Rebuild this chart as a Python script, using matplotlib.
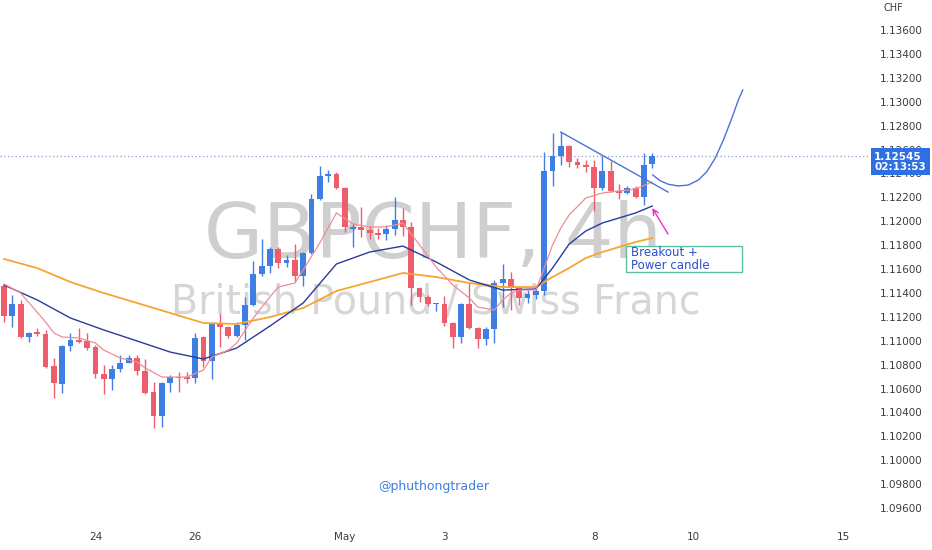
import numpy as np
import matplotlib.pyplot as plt
from matplotlib.patches import Rectangle
from matplotlib.transforms import blended_transform_factory

# 4h candles, GBPCHF
opens = [1.11458, 1.11207, 1.11310, 1.11031, 1.11073, 1.11056, 1.10789, 1.10638, 1.10956, 1.11006,
         1.10998, 1.10947, 1.10721, 1.10680, 1.10764, 1.10814, 1.10855, 1.10747, 1.10570, 1.10370,
         1.10646, 1.10696, 1.10696, 1.10688, 1.11031, 1.10830, 1.11148, 1.11115, 1.11040, 1.11131,
         1.11299, 1.11558, 1.11625, 1.11767, 1.11650, 1.11675, 1.11541, 1.11734, 1.12186, 1.12378,
         1.12395, 1.12278, 1.11935, 1.11951, 1.11926, 1.11901, 1.11893, 1.11935, 1.12010, 1.11951,
         1.11441, 1.11366, 1.11307, 1.11307, 1.11148, 1.11031, 1.11307, 1.11106, 1.11014, 1.11098,
         1.11483, 1.11516, 1.11441, 1.11357, 1.11383, 1.11416, 1.12420, 1.12546, 1.12629, 1.12495,
         1.12470, 1.12454, 1.12278, 1.12420, 1.12253, 1.12236, 1.12278, 1.12203, 1.12479]
highs = [1.11475, 1.11383, 1.11341, 1.11073, 1.11106, 1.11090, 1.10855, 1.10964, 1.11065, 1.11106,
         1.11065, 1.10964, 1.10797, 1.10797, 1.10881, 1.10881, 1.10881, 1.10847, 1.10654, 1.10654,
         1.10713, 1.10738, 1.10738, 1.11065, 1.11040, 1.11156, 1.11232, 1.11123, 1.11156, 1.11366,
         1.11667, 1.11851, 1.11784, 1.11784, 1.11717, 1.11809, 1.11742, 1.12228, 1.12462, 1.12428,
         1.12412, 1.12286, 1.11977, 1.12119, 1.11960, 1.11943, 1.11968, 1.12202, 1.12110, 1.11993,
         1.11450, 1.11383, 1.11318, 1.11374, 1.11156, 1.11315, 1.11483, 1.11115, 1.11115, 1.11508,
         1.11642, 1.11575, 1.11450, 1.11424, 1.11466, 1.12579, 1.12738, 1.12746, 1.12637, 1.12529,
         1.12512, 1.12512, 1.12546, 1.12504, 1.12311, 1.12295, 1.12295, 1.12571, 1.12571]
lows = [1.11156, 1.11115, 1.11023, 1.10989, 1.11040, 1.10772, 1.10521, 1.10562, 1.10914, 1.10981,
        1.10922, 1.10688, 1.10554, 1.10588, 1.10738, 1.10810, 1.10713, 1.10555, 1.10270, 1.10278,
        1.10571, 1.10571, 1.10646, 1.10646, 1.10780, 1.10680, 1.10947, 1.11023, 1.11031, 1.11006,
        1.11290, 1.11541, 1.11567, 1.11608, 1.11617, 1.11491, 1.11458, 1.11725, 1.12177, 1.12328,
        1.12270, 1.11910, 1.11784, 1.11868, 1.11851, 1.11851, 1.11843, 1.11885, 1.11876, 1.11299,
        1.11324, 1.11290, 1.11249, 1.11123, 1.10939, 1.10981, 1.11098, 1.10939, 1.10964, 1.10981,
        1.11282, 1.11257, 1.11299, 1.11316, 1.11350, 1.11383, 1.12295, 1.12470, 1.12454, 1.12445,
        1.12412, 1.12085, 1.12261, 1.12245, 1.12186, 1.12228, 1.12194, 1.12136, 1.12445]
closes = [1.11207, 1.11307, 1.11031, 1.11065, 1.11056, 1.10780, 1.10646, 1.10956, 1.11006, 1.10989,
          1.10939, 1.10721, 1.10680, 1.10764, 1.10814, 1.10855, 1.10747, 1.10562, 1.10370, 1.10646,
          1.10696, 1.10688, 1.10680, 1.11023, 1.10830, 1.11148, 1.11115, 1.11040, 1.11131, 1.11299,
          1.11558, 1.11625, 1.11767, 1.11650, 1.11675, 1.11541, 1.11734, 1.12186, 1.12378, 1.12395,
          1.12278, 1.11951, 1.11951, 1.11926, 1.11901, 1.11885, 1.11935, 1.12010, 1.11951, 1.11441,
          1.11366, 1.11307, 1.11315, 1.11148, 1.11031, 1.11307, 1.11106, 1.11014, 1.11098, 1.11483,
          1.11516, 1.11441, 1.11357, 1.11391, 1.11416, 1.12420, 1.12546, 1.12629, 1.12495, 1.12470,
          1.12454, 1.12278, 1.12420, 1.12253, 1.12236, 1.12278, 1.12203, 1.12470, 1.12545]

# moving averages, sampled at bar indices
fast_idx = [0, 2, 5, 6, 7, 9, 11, 12, 14, 16, 17, 19, 20, 22, 24, 25, 27, 28, 30, 32,
            33, 35, 36, 38, 40, 42, 44, 46, 48, 50, 52, 54, 56, 57, 59, 60, 61, 62, 64, 65,
            66, 67, 68, 70, 72, 74, 76, 78]
fast_ma = [1.11475, 1.11399, 1.11157, 1.11065, 1.11031, 1.11023, 1.10981, 1.10922, 1.10855, 1.10822,
           1.10772, 1.10696, 1.10696, 1.10696, 1.10755, 1.10864, 1.10922, 1.10981, 1.11190, 1.11366,
           1.11449, 1.11483, 1.11592, 1.11818, 1.12069, 1.11977, 1.11952, 1.11952, 1.11985, 1.11801,
           1.11617, 1.11466, 1.11357, 1.11282, 1.11257, 1.11341, 1.11399, 1.11424, 1.11424, 1.11608,
           1.11801, 1.11943, 1.12052, 1.12194, 1.12236, 1.12253, 1.12269, 1.12328]
mid_idx = [0, 4, 8, 12, 16, 20, 24, 28, 32, 36, 40, 44, 48, 52, 56, 60, 64, 66, 68, 70, 72, 74,
           76, 78]
mid_ma = [1.11466, 1.11341, 1.11190, 1.11090, 1.10998, 1.10905, 1.10847, 1.10939, 1.11123,
          1.11316, 1.11642, 1.11742, 1.11792, 1.11659, 1.11508, 1.11424, 1.11433, 1.11608,
          1.11809, 1.11918, 1.11985, 1.12027, 1.12069, 1.12127]
slow_idx = [0, 4, 8, 12, 16, 20, 24, 28, 32, 36, 40, 44, 48, 52, 56, 60, 64, 66, 68, 70, 72, 74,
            76, 78]
slow_ma = [1.11684, 1.11608, 1.11491, 1.11399, 1.11316, 1.11232, 1.11148, 1.11140, 1.11198,
           1.11274, 1.11416, 1.11491, 1.11567, 1.11533, 1.11483, 1.11449, 1.11449, 1.11533,
           1.11608, 1.11692, 1.11742, 1.11784, 1.11826, 1.11859]

day_ticks = [11, 23, 41, 53, 71, 83, 101]
day_labels = ['24', '26', 'May', '3', '8', '10', '15']
price_ticks = [1.096, 1.098, 1.100, 1.102, 1.104, 1.106, 1.108, 1.110, 1.112, 1.114, 1.116,
               1.118, 1.120, 1.122, 1.124, 1.126, 1.128, 1.130, 1.132, 1.134, 1.136]

last_price = 1.12545
countdown = '02:13:53'

# drawings
trend_x = [67.0, 79.9]
trend_y = [1.12746, 1.12244]
proj_x = [78.06, 78.94, 79.94, 81.14, 82.35, 83.55, 84.56, 85.56, 86.56, 87.57, 88.36, 88.89]
proj_y = [1.12387, 1.12339, 1.12309, 1.12295, 1.12303, 1.12345, 1.12414, 1.12526, 1.12679,
          1.12861, 1.13014, 1.13098]
arrow_tail = (79.9, 1.11893)
arrow_head = (78.0, 1.12110)
note = 'Breakout +\nPower candle'

UP = '#3f7fe3'
DOWN = '#ee5d6c'

fig = plt.figure(figsize=(9.32, 5.5), dpi=100)
ax = fig.add_axes([0, 25 / 550, 870 / 932, 525 / 550])
ax.set_xlim(-0.48, 104.2)
ax.set_ylim(1.09458, 1.13851)

# watermark
ax.text(0.498, 0.5086, 'GBPCHF, 4h', transform=ax.transAxes, ha='center', va='baseline',
        fontsize=55, color='#cfcfcf', zorder=0)
ax.text(0.501, 0.402, 'British Pound / Swiss Franc', transform=ax.transAxes, ha='center',
        va='baseline', fontsize=28.5, color='#d6d6d6', zorder=0)
ax.text(0.498, 0.074, '@phuthongtrader', transform=ax.transAxes, ha='center', va='center',
        fontsize=9, color=UP)

# candles
o = np.array(opens); c = np.array(closes)
idx = np.arange(len(o))
cols = [UP if cc >= oo else DOWN for oo, cc in zip(o, c)]
ax.vlines(idx, lows, highs, colors=cols, lw=1, zorder=2)
body = np.maximum(np.abs(c - o), 0.00009)
ax.bar(idx, body, bottom=np.minimum(o, c), width=0.7, color=cols, zorder=2)

ax.plot(slow_idx, slow_ma, color='#f7a531', lw=1.3, zorder=3)
ax.plot(mid_idx, mid_ma, color='#2b3a9e', lw=1.0, zorder=3)
ax.plot(fast_idx, fast_ma, color='#f28b95', lw=0.9, zorder=3)

ax.axhline(last_price, color='#8c9bd6', lw=0.9, ls=(0, (1, 2)), zorder=1)

# trendline + projection
ax.plot(trend_x, trend_y, color='#4a72d8', lw=1, zorder=4)
ax.plot(proj_x, proj_y, color='#4a72d8', lw=1, zorder=4)
ax.annotate('', xy=arrow_head, xytext=arrow_tail,
            arrowprops=dict(arrowstyle='->', color='#ea2fd0', lw=1, shrinkA=0, shrinkB=0))
ax.add_patch(Rectangle((74.85, 1.11575), 13.95, 0.00218, fc='white', ec='#5cbfa5', lw=1, zorder=4))
ax.text(75.4, 1.11684, note, ha='left', va='center', fontsize=8.5, color='#2a4fd0',
        linespacing=1.0, zorder=5)

# axes
for s in ax.spines.values():
    s.set_visible(False)
ax.yaxis.tick_right()
ax.set_yticks(price_ticks, [f'{p:.5f}' for p in price_ticks])
ax.set_xticks(day_ticks, day_labels)
ax.tick_params(axis='y', length=0, pad=7, labelsize=7.5, labelcolor='#3c3c3c')
ax.tick_params(axis='x', length=0, pad=5, labelsize=7.5, labelcolor='#3c3c3c')

fig.text(884 / 932, 1 - 8 / 550, 'CHF', ha='left', va='center', fontsize=7, color='#3c3c3c')
tr = blended_transform_factory(ax.transAxes, ax.transData)
ax.annotate(f'{last_price:.5f}\n{countdown}', xy=(1, last_price), xycoords=tr,
            xytext=(3, -4), textcoords='offset points', ha='left', va='center',
            fontsize=7.5, fontweight='bold', color='white', linespacing=1.0,
            annotation_clip=False,
            bbox=dict(boxstyle='square,pad=0.35', fc='#2f6fe4', ec='none'), zorder=6)

fig.savefig('out.png', dpi=100)
